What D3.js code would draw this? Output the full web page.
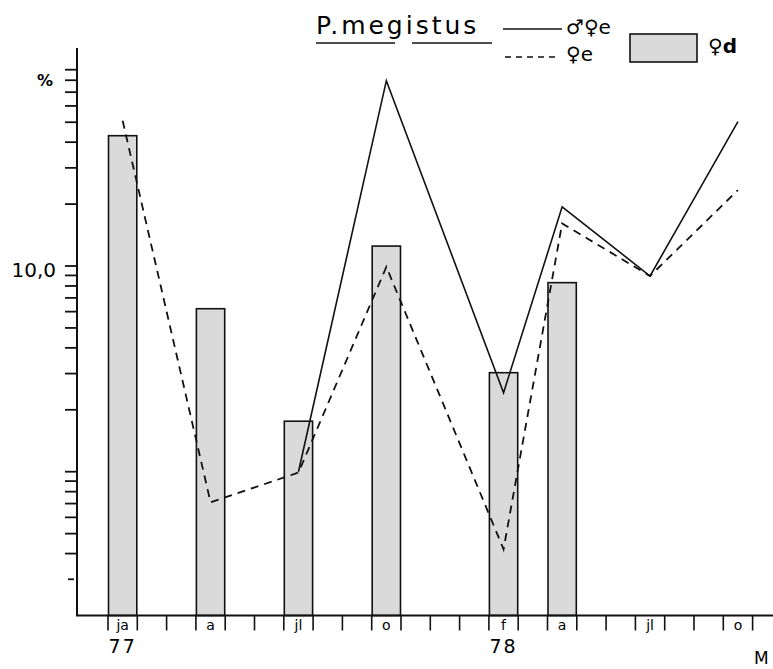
<!DOCTYPE html>
<html>
<head>
<meta charset="utf-8">
<script src="https://cdn.jsdelivr.net/npm/d3@7"></script>
<style>
  body { margin: 0; background: #fff; }
  svg { display: block; font-family: "DejaVu Sans", sans-serif; }
</style>
</head>
<body>
<svg id="chart" width="773" height="669"></svg>
<script>
// month labels and their position (months since Jan 77)
const monthLabels = ["ja", "a", "jl", "o", "f", "a", "jl", "o"];
const monthIndex = [0, 3, 6, 9, 13, 15, 18, 21];
const yearLabels = ["77", "78"];
const yearIndex = [0, 13];

// ♀d bars, % (first six months)
const barValues = [43, 6.2, 1.76, 12.5, 3.03, 8.3];
// ♂♀e solid line (starts at jl 77)
const solidValues = [null, null, 1.0, 79.6, 2.42, 19.4, 8.94, 50.3];
// ♀e dashed line
const dashedValues = [50.8, 0.71, 0.99, 9.9, 0.42, 16.1, 8.94, 23.4];

const yTicks = [0.3, 0.4, 0.5, 0.6, 0.7, 0.8, 0.9, 1, 2, 3, 4, 5, 6, 7, 8, 9, 10,
  20, 30, 40, 50, 60, 70, 80, 90];

const svg = d3.select("#chart");

const x = d3.scaleLinear().domain([0, 22]).range([108, 752.6]);
const y = d3.scaleLog().domain([0.2, 100]).range([615.5, 60.3]);
const axisX = 77;
const baseY = y(0.2);
const mid = m => x(m + 0.5);

// bars
const bars = barValues.map((v, i) => ({ m: monthIndex[i], v }));
svg.append("g").selectAll("rect")
  .data(bars)
  .join("rect")
  .attr("x", d => x(d.m) + 0.5)
  .attr("width", d => x(d.m + 1) - x(d.m) - 1)
  .attr("y", d => y(d.v))
  .attr("height", d => baseY - y(d.v))
  .attr("fill", "#dadada")
  .attr("stroke", "#111")
  .attr("stroke-width", 1.6);

// lines
const line = d3.line()
  .defined(d => d.v != null)
  .x(d => mid(d.m))
  .y(d => y(d.v));

svg.append("path")
  .datum(solidValues.map((v, i) => ({ m: monthIndex[i], v })))
  .attr("d", line)
  .attr("fill", "none")
  .attr("stroke", "#111")
  .attr("stroke-width", 1.6);

svg.append("path")
  .datum(dashedValues.map((v, i) => ({ m: monthIndex[i], v })))
  .attr("d", line)
  .attr("fill", "none")
  .attr("stroke", "#111")
  .attr("stroke-width", 1.8)
  .attr("stroke-dasharray", "8,6");

// y axis
svg.append("line")
  .attr("x1", axisX).attr("x2", axisX)
  .attr("y1", 48).attr("y2", baseY)
  .attr("stroke", "#111").attr("stroke-width", 2);

svg.append("g").selectAll("line")
  .data(yTicks)
  .join("line")
  .attr("x1", d => d === 0.3 ? 68 : 65)
  .attr("x2", d => d === 0.3 ? 74 : axisX)
  .attr("y1", d => y(d)).attr("y2", d => y(d))
  .attr("stroke", "#111").attr("stroke-width", 1.8);

svg.append("text")
  .attr("x", 56).attr("y", y(10) + 11)
  .attr("text-anchor", "end")
  .style("font-size", "20px")
  .text("10,0");

svg.append("text")
  .attr("x", 45).attr("y", 86)
  .attr("text-anchor", "middle")
  .style("font-size", "16px")
  .style("font-weight", "bold")
  .text("%");

// x axis
svg.append("line")
  .attr("x1", axisX - 1).attr("x2", 773)
  .attr("y1", baseY).attr("y2", baseY)
  .attr("stroke", "#111").attr("stroke-width", 2);

svg.append("g").selectAll("line")
  .data(d3.range(0, 23))
  .join("line")
  .attr("x1", d => x(d)).attr("x2", d => x(d))
  .attr("y1", baseY).attr("y2", baseY + 15)
  .attr("stroke", "#111").attr("stroke-width", 1.6);

svg.append("g").selectAll("text")
  .data(monthLabels)
  .join("text")
  .attr("x", (d, i) => mid(monthIndex[i]))
  .attr("y", baseY + 14)
  .attr("text-anchor", "middle")
  .style("font-size", "14px")
  .text(d => d);

svg.append("g").selectAll("text")
  .data(yearLabels)
  .join("text")
  .attr("x", (d, i) => mid(yearIndex[i]))
  .attr("y", baseY + 37)
  .attr("text-anchor", "middle")
  .style("font-size", "19px")
  .style("letter-spacing", "2px")
  .text(d => d);

svg.append("text")
  .attr("x", 754).attr("y", 664)
  .style("font-size", "17px")
  .text("M");

// legend
svg.append("text")
  .attr("x", 316).attr("y", 34)
  .style("font-size", "25px")
  .style("letter-spacing", "3px")
  .text("P.megistus");

svg.append("line").attr("x1", 316).attr("x2", 395).attr("y1", 43).attr("y2", 43)
  .attr("stroke", "#111").attr("stroke-width", 1.6);
svg.append("line").attr("x1", 412).attr("x2", 492).attr("y1", 43).attr("y2", 43)
  .attr("stroke", "#111").attr("stroke-width", 1.6);

svg.append("line").attr("x1", 503).attr("x2", 562).attr("y1", 29).attr("y2", 29)
  .attr("stroke", "#111").attr("stroke-width", 1.6);
svg.append("text").attr("x", 566).attr("y", 34)
  .style("font-size", "20px").text("♂♀e");

svg.append("line").attr("x1", 505).attr("x2", 560).attr("y1", 57).attr("y2", 57)
  .attr("stroke", "#111").attr("stroke-width", 1.6).attr("stroke-dasharray", "6,5");
svg.append("text").attr("x", 566).attr("y", 61)
  .style("font-size", "20px").text("♀e");

svg.append("rect").attr("x", 630).attr("y", 34).attr("width", 67).attr("height", 28)
  .attr("fill", "#dadada").attr("stroke", "#111").attr("stroke-width", 1.6);
svg.append("text").attr("x", 708).attr("y", 53)
  .style("font-size", "20px").style("font-weight", "bold").text("♀d");
</script>
</body>
</html>
